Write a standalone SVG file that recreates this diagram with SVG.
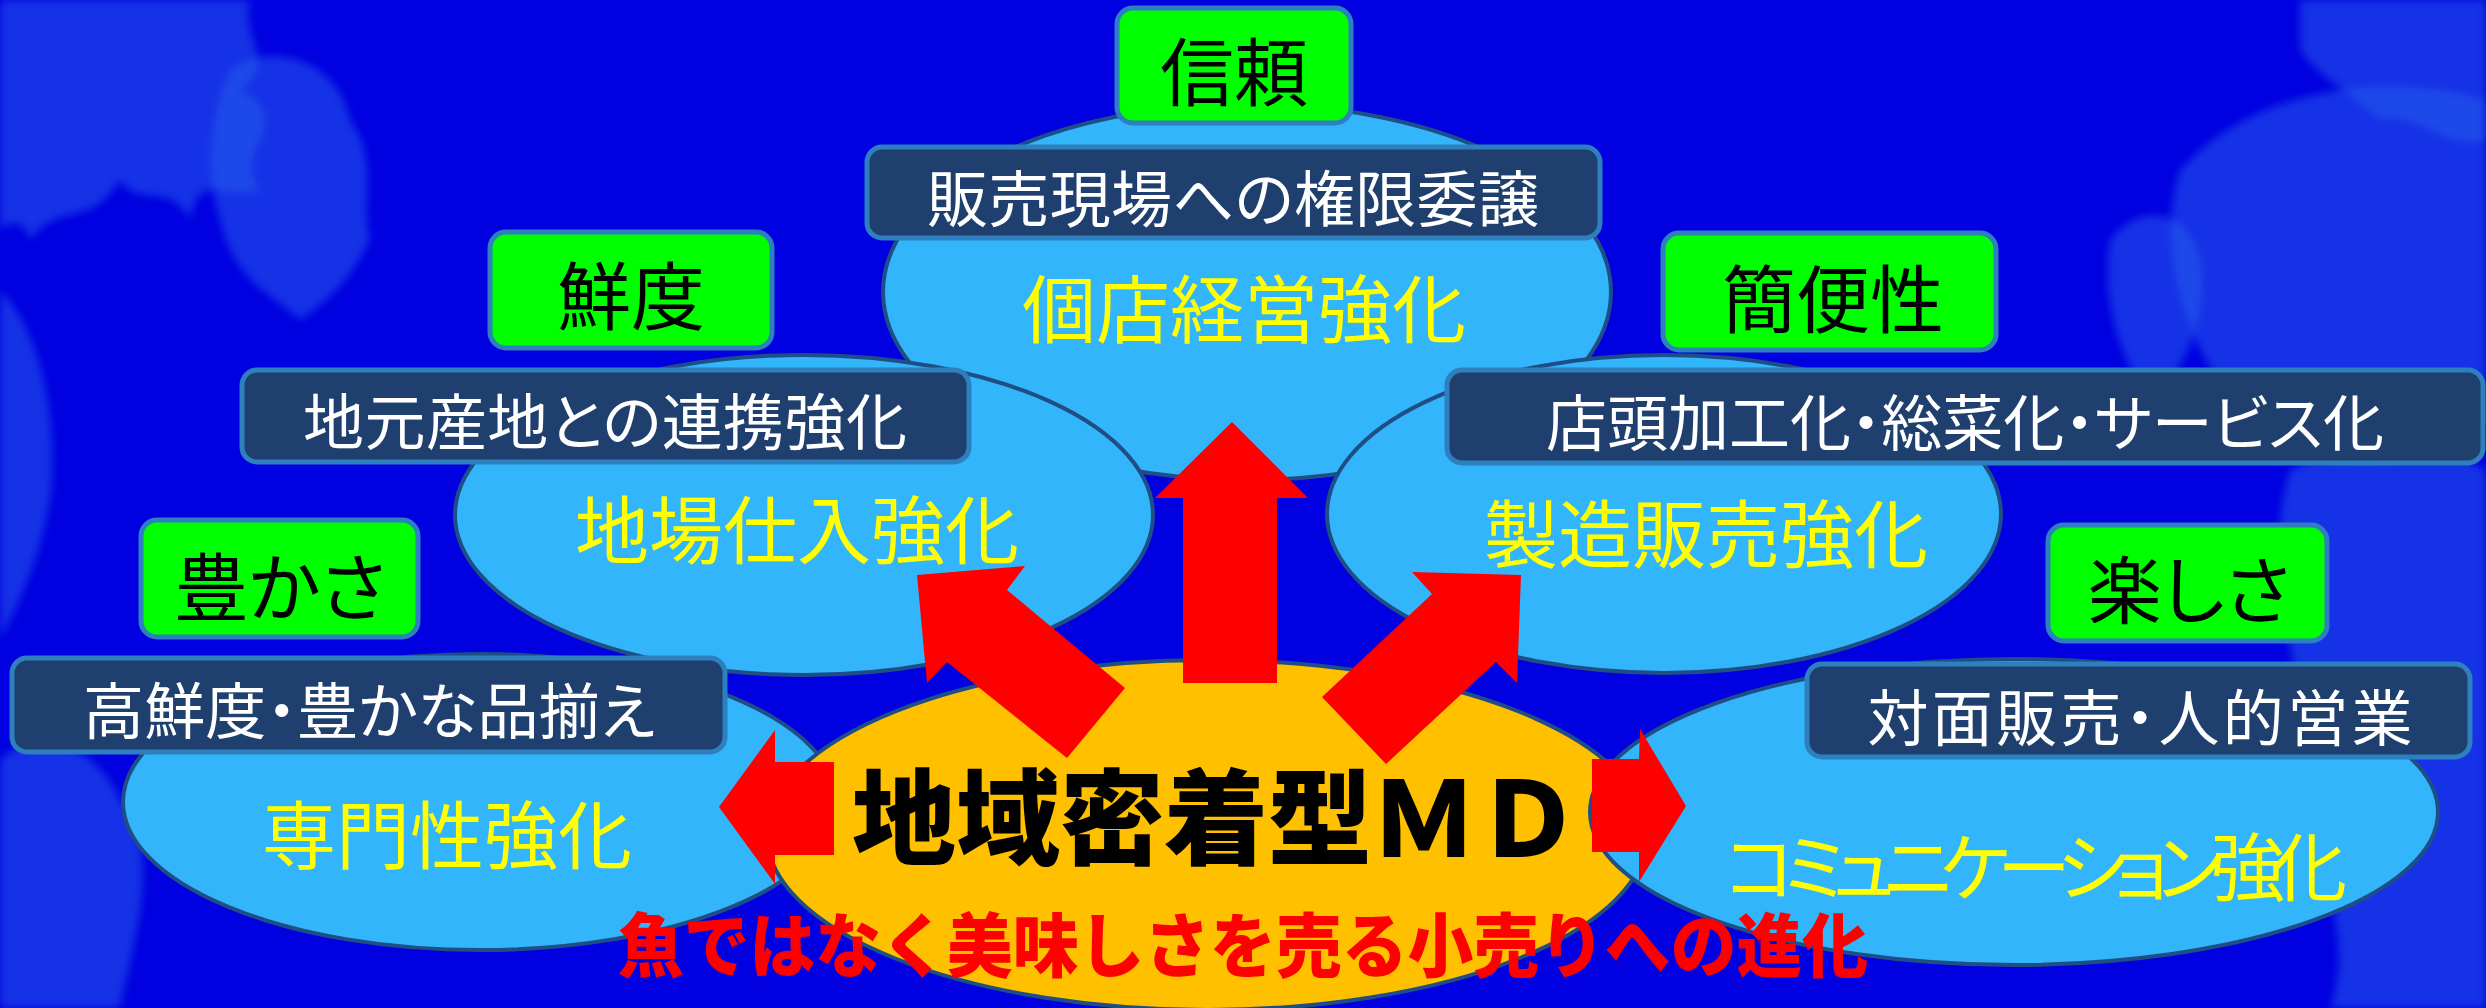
<svg xmlns="http://www.w3.org/2000/svg" width="2486" height="1008" viewBox="0 0 2486 1008">
<defs>
<style>
.bg{fill:#0000e0}
.leaf{fill:#2a62ee;opacity:0.5}
.ell{fill:#33b5fb;stroke:#1f4e86;stroke-width:4}
.core{fill:#ffc000;stroke:#1f4e86;stroke-width:4}
.lab{fill:#1f406f;stroke:#2e7fbe;stroke-width:5}
.tag{fill:#00ff00;stroke:#2e7fbe;stroke-width:5}
.arrow{fill:#ff0000}
text{font-family:"Noto Sans CJK JP","Noto Sans CJK SC",sans-serif;dominant-baseline:central;text-anchor:middle}
.t-tag{font-size:74px;fill:#000;font-feature-settings:"palt"}
.t-lab{font-size:61px;fill:#fff;font-feature-settings:"palt"}
.t-ell{font-size:74px;fill:#ffff00}
.t-kana{font-feature-settings:"palt"}
.t-core{font-size:104px;font-weight:900;fill:#000}
.t-red{font-size:70px;font-weight:900;fill:#ff0000}
</style>
<filter id="blur" x="-20%" y="-20%" width="140%" height="140%"><feGaussianBlur stdDeviation="4"/></filter>
</defs>
<rect class="bg" x="0" y="0" width="2486" height="1008"/>
<g id="background-leaves" filter="url(#blur)">
<path class="leaf" d="M0,0 L250,0 C240,40 280,60 240,90 C300,120 230,150 260,190 C220,200 200,170 190,220 C170,180 140,210 120,180 C90,230 60,200 30,240 C20,210 0,230 0,230 Z"/>
<path class="leaf" d="M230,70 C270,40 340,60 350,120 C380,160 360,200 370,240 C350,280 330,300 300,320 C280,300 250,290 230,250 C210,200 200,140 230,70 Z"/>
<path class="leaf" d="M0,290 C40,330 60,420 50,500 C40,560 20,600 0,640 Z"/>
<path class="leaf" d="M0,760 C40,720 100,750 120,800 C160,850 140,920 120,1008 L0,1008 Z"/>
<path class="leaf" d="M2300,0 L2486,0 L2486,140 C2440,150 2420,110 2380,120 C2350,90 2320,80 2300,50 Z"/>
<path class="leaf" d="M2180,170 C2250,90 2380,70 2486,100 L2486,420 C2420,470 2330,480 2260,430 C2200,380 2150,260 2180,170 Z"/>
<path class="leaf" d="M2290,470 C2360,430 2440,440 2486,470 L2486,1008 L2330,1008 C2360,920 2300,860 2320,760 C2300,700 2260,560 2290,470 Z"/>
<path class="leaf" d="M2110,240 C2140,200 2190,210 2200,260 C2210,320 2180,380 2150,400 C2120,360 2100,300 2110,240 Z"/>
</g>
<g id="connectors">
</g>
<g id="node-kotenkeiei">
<ellipse class="ell" cx="1247" cy="292" rx="364" ry="188"/>
<text class="t-ell" x="1244" y="304">個店経営強化</text>
</g>
<g id="node-jibashiire">
<ellipse class="ell" cx="804" cy="515" rx="349" ry="160"/>
<text class="t-ell" x="797" y="525">地場仕入強化</text>
</g>
<g id="node-seizouhanbai">
<ellipse class="ell" cx="1664" cy="514" rx="337" ry="159"/>
<text class="t-ell" x="1706" y="529">製造販売強化</text>
</g>
<g id="node-senmonsei">
<ellipse class="ell" cx="480" cy="802" rx="357" ry="148"/>
<text class="t-ell" x="447" y="830">専門性強化</text>
</g>
<g id="node-core">
<ellipse class="core" cx="1207" cy="835" rx="440" ry="175"/>
</g>
<g id="node-communication">
<ellipse class="ell" cx="2014" cy="812" rx="424" ry="153"/>
<text class="t-ell t-kana" x="2036" y="862" textLength="622" lengthAdjust="spacing">コミュニケーション強化</text>
</g>
<g id="arrows">
<polygon class="arrow" points="1232,422 1308,498 1277,498 1277,683 1183,683 1183,498 1155,498"/>
<polygon class="arrow" points="917,575 1025,566 1007,590 1125,688 1067,758 947,662 927,683"/>
<polygon class="arrow" points="1521,575 1517,683 1496,662 1386,764 1322,697 1432,594 1412,572"/>
<polygon class="arrow" points="719,807 775,730 775,762 834,762 834,855 775,855 775,884"/>
<polygon class="arrow" points="1686,806 1639,882 1639,852 1592,852 1592,759 1639,759 1640,729"/>
</g>
<g id="node-core-text">
<text class="t-core" x="1216" y="811" textLength="728" lengthAdjust="spacingAndGlyphs">地域密着型ＭＤ</text>
</g>
<g id="label-shinrai">
<rect class="tag" x="1117" y="8" width="234" height="115" rx="16"/>
<text class="t-tag" x="1234" y="67">信頼</text>
</g>
<g id="label-kengen">
<rect class="lab" x="867" y="147" width="733" height="91" rx="15"/>
<text class="t-lab" x="1233" y="195" textLength="612" lengthAdjust="spacing">販売現場への権限委譲</text>
</g>
<g id="label-sendo">
<rect class="tag" x="490" y="232" width="282" height="116" rx="16"/>
<text class="t-tag" x="631" y="291">鮮度</text>
</g>
<g id="label-renkei">
<rect class="lab" x="242" y="370" width="727" height="92" rx="15"/>
<text class="t-lab" x="605" y="418" textLength="604" lengthAdjust="spacing">地元産地との連携強化</text>
</g>
<g id="label-kanbensei">
<rect class="tag" x="1663" y="233" width="333" height="117" rx="16"/>
<text class="t-tag" x="1833" y="294">簡便性</text>
</g>
<g id="label-tento">
<rect class="lab" x="1447" y="370" width="1036" height="93" rx="15"/>
<text class="t-lab" x="1965" y="419" textLength="838" lengthAdjust="spacing">店頭加工化・総菜化・サービス化</text>
</g>
<g id="label-yutakasa">
<rect class="tag" x="141" y="520" width="277" height="117" rx="16"/>
<text class="t-tag" x="280" y="582">豊かさ</text>
</g>
<g id="label-koushindo">
<rect class="lab" x="12" y="658" width="713" height="94" rx="15"/>
<text class="t-lab" x="369" y="707" textLength="572" lengthAdjust="spacing">高鮮度・豊かな品揃え</text>
</g>
<g id="label-tanoshisa">
<rect class="tag" x="2048" y="525" width="279" height="116" rx="16"/>
<text class="t-tag" x="2189" y="585">楽しさ</text>
</g>
<g id="label-taimen">
<rect class="lab" x="1807" y="664" width="663" height="93" rx="15"/>
<text class="t-lab" x="2140" y="714" textLength="545" lengthAdjust="spacing">対面販売・人的営業</text>
</g>
<g id="subtitle">
<text class="t-red" x="1243" y="941" textLength="1250" lengthAdjust="spacingAndGlyphs">魚ではなく美味しさを売る小売りへの進化</text>
</g>
</svg>
